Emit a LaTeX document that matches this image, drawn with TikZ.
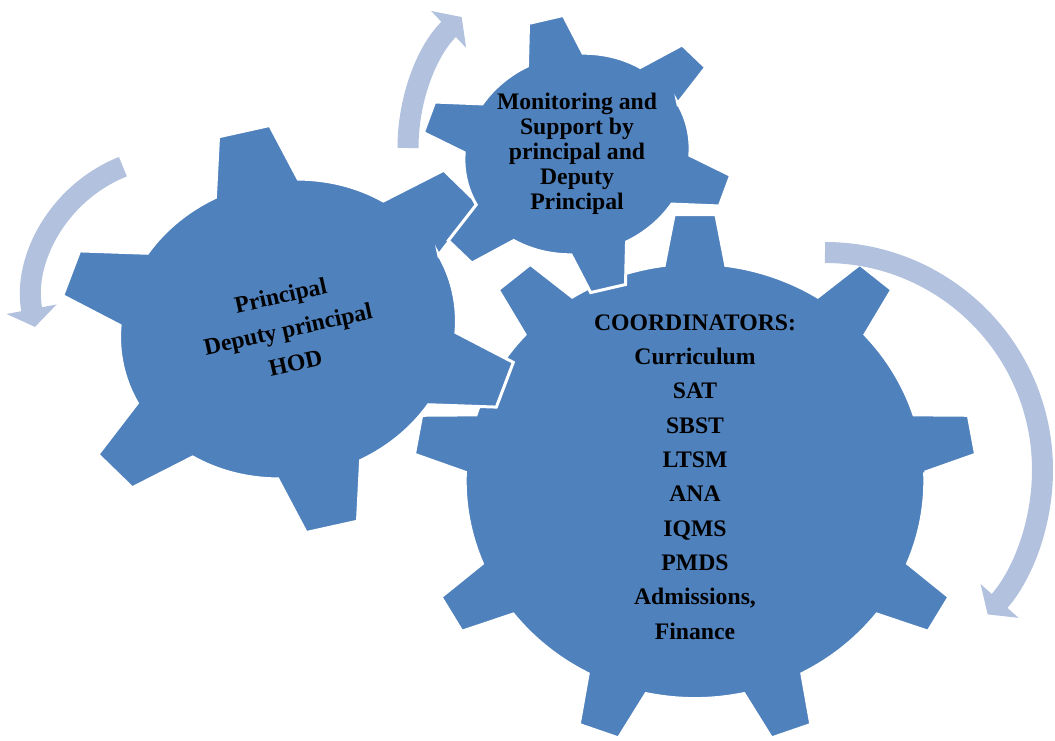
\documentclass[tikz,border=0pt]{standalone}
\usepackage{fontspec}
\setmainfont{Liberation Serif}
\usetikzlibrary{arrows.meta}

\definecolor{gearblue}{RGB}{79,129,189}
\definecolor{arrowblue}{RGB}{177,193,222}

% outline of a gear on the unit circle:
% #1 teeth, #2 angle of first tooth, #3 half width of a tip,
% #4 radius of the body, #5 half width of a tooth at the body
\newcommand{\gearpath}[5]{%
  ({#2-#5}:#4)
  \foreach \k in {1,...,#1} {
    -- ({#2+(\k-1)*360/#1-#3}:1) -- ({#2+(\k-1)*360/#1+#3}:1)
    -- ({#2+(\k-1)*360/#1+#5}:#4)
    arc[start angle={#2+(\k-1)*360/#1+#5}, end angle={#2+\k*360/#1-#5}, radius=#4]
  } -- cycle}

\tikzset{
  gear/.style={fill=gearblue, draw=white, line width=3pt},
  turn/.style={draw=arrowblue, line width=21pt, line cap=butt,
    -{Triangle[width=50pt,length=18pt]}},
  geartext/.style={align=center, inner sep=0pt, text=black,
    font=\fontsize{23.7}{#1}\selectfont\bfseries},
}

\begin{document}
\begin{tikzpicture}[x=1pt, y=1pt]
    \useasboundingbox (0,0) rectangle (1055,740);

    \coordinate (big) at (695,259);
    \coordinate (lead) at (288,411);
    \coordinate (watch) at (577,586);

    % gears, big one first
    \begin{scope}[shift={(big)}, xscale=282, yscale=267]
        \path[gear] \gearpath{9}{10}{4.25}{0.815}{7.7};
    \end{scope}
    \begin{scope}[shift={(lead)}, rotate=12.5, xscale=232, yscale=204]
        \path[gear] \gearpath{6}{30}{6.5}{0.73}{14.5};
    \end{scope}
    \begin{scope}[shift={(watch)}, rotate=13, xscale=158, yscale=139]
        \path[gear] \gearpath{6}{30}{6.5}{0.72}{14.5};
    \end{scope}

    \node[geartext=34.5, rotate=12.5] (leadtext) at (lead)
        {Principal\\Deputy principal\\HOD};
    \node[geartext=25] (watchtext) at (watch)
        {Monitoring and\\Support by\\principal and\\Deputy\\Principal};
    \node[geartext=34.3] (bigtext) at (695,263)
        {COORDINATORS:\\Curriculum\\SAT\\SBST\\LTSM\\ANA\\IQMS\\PMDS\\Admissions,\\Finance};

    % turning arrows
    \coordinate (lstart) at (122.9,573.3);
    \coordinate (tstart) at (408,592);
    \coordinate (rstart) at (825,487.5);
    \draw[turn] (lstart) arc[start angle=111.7, end angle=190.8, radius=143.5];
    \draw[turn] (tstart) arc[start angle=180, end angle=129.6, x radius=148, y radius=170];
    \draw[turn] (rstart) arc[start angle=90, end angle=-41.6, radius=217.5];
\end{tikzpicture}
\end{document}
